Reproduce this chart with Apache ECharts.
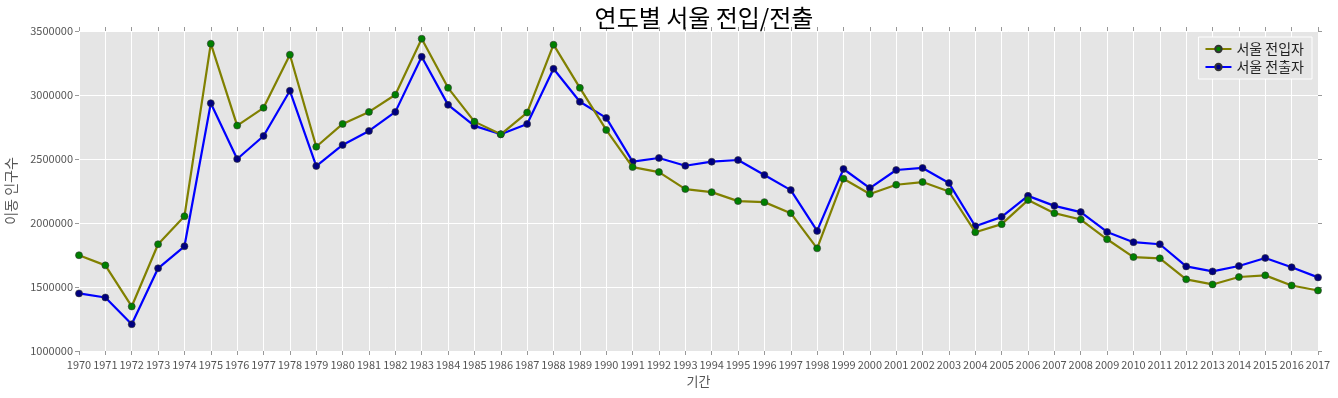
<!DOCTYPE html>
<html>
<head>
<meta charset="utf-8">
<script src="https://cdn.jsdelivr.net/npm/echarts@6/dist/echarts.min.js"></script>
<style>
  html, body { margin: 0; padding: 0; background: #fff; }
  #chart { width: 1338px; height: 398px; }
</style>
</head>
<body>
<div id="chart"></div>
<script>
// 연도별 서울 전입/전출
var years = ['1970','1971','1972','1973','1974','1975','1976','1977','1978','1979',
  '1980','1981','1982','1983','1984','1985','1986','1987','1988','1989',
  '1990','1991','1992','1993','1994','1995','1996','1997','1998','1999',
  '2000','2001','2002','2003','2004','2005','2006','2007','2008','2009',
  '2010','2011','2012','2013','2014','2015','2016','2017'];

var moveIn = [1748000, 1669000, 1348000, 1834000, 2053000, 3401000, 2761000, 2900000, 3315000, 2596000,
  2774000, 2868000, 3002000, 3440000, 3056000, 2792000, 2693000, 2863000, 3393000, 3056000,
  2727000, 2437000, 2398000, 2265000, 2241000, 2171000, 2163000, 2077000, 1802000, 2346000,
  2226000, 2299000, 2320000, 2246000, 1928000, 1991000, 2179000, 2077000, 2027000, 1873000,
  1734000, 1724000, 1560000, 1520000, 1578000, 1591000, 1512000, 1473000];

var moveOut = [1450000, 1418000, 1209000, 1646000, 1818000, 2936000, 2500000, 2680000, 3033000, 2445000,
  2610000, 2719000, 2868000, 3299000, 2923000, 2759000, 2693000, 2774000, 3205000, 2947000,
  2821000, 2479000, 2508000, 2447000, 2479000, 2492000, 2375000, 2257000, 1938000, 2422000,
  2273000, 2414000, 2430000, 2312000, 1975000, 2048000, 2212000, 2134000, 2085000, 1930000,
  1850000, 1834000, 1661000, 1622000, 1664000, 1727000, 1654000, 1575000];

var seriesNames = ['서울 전입자', '서울 전출자'];

var chart = echarts.init(document.getElementById('chart'));
var tickColor = '#555555';

var option = {
  animation: false,
  textStyle: { fontFamily: '"Noto Sans CJK KR", "Noto Sans", sans-serif' },
  title: {
    text: '연도별 서울 전입/전출',
    left: 699,
    textAlign: 'center',
    top: 1,
    textStyle: { fontSize: 24, fontWeight: 'normal', color: '#000' }
  },
  legend: {
    data: seriesNames,
    orient: 'vertical',
    right: 26,
    top: 37,
    padding: [5, 8, 5, 6],
    itemGap: 4,
    itemWidth: 26,
    itemHeight: 8,
    backgroundColor: '#E5E5E5',
    borderColor: '#FFFFFF',
    borderWidth: 1,
    textStyle: { fontSize: 14, color: '#222' }
  },
  grid: {
    left: 79,
    right: 20,
    top: 31,
    bottom: 47,
    outerBoundsMode: 'none',
    containLabel: false,
    show: true,
    backgroundColor: '#E5E5E5',
    borderWidth: 0
  },
  xAxis: [{
    type: 'category',
    data: years,
    boundaryGap: false,
    name: '기간',
    nameLocation: 'middle',
    nameGap: 23,
    nameTextStyle: { fontSize: 13, color: tickColor },
    axisLine: { show: false },
    axisTick: { show: true, interval: 0, length: 4, lineStyle: { color: '#999' } },
    axisLabel: { interval: 0, fontSize: 11, color: tickColor, margin: 8 },
    splitLine: { show: true, interval: 0, lineStyle: { color: '#FFFFFF', width: 1 } }
  }, {
    type: 'category',
    data: years,
    boundaryGap: false,
    position: 'top',
    axisLine: { show: false },
    axisTick: { show: true, interval: 0, length: 4, lineStyle: { color: '#999' } },
    axisLabel: { show: false },
    splitLine: { show: false }
  }],
  yAxis: [{
    type: 'value',
    min: 1000000,
    max: 3500000,
    interval: 500000,
    name: '이동 인구수',
    nameLocation: 'middle',
    nameGap: 61,
    nameTextStyle: { fontSize: 14, color: tickColor },
    axisLine: { show: false },
    axisTick: { show: true, length: 4, lineStyle: { color: '#999' } },
    axisLabel: { fontSize: 11, color: tickColor, margin: 6, formatter: function (v) { return String(v); } },
    splitLine: { lineStyle: { color: '#FFFFFF', width: 1 } }
  }, {
    type: 'value',
    min: 1000000,
    max: 3500000,
    interval: 500000,
    position: 'right',
    axisLine: { show: false },
    axisTick: { show: true, length: 4, lineStyle: { color: '#999' } },
    axisLabel: { show: false },
    splitLine: { show: false }
  }],
  series: [{
    name: seriesNames[0],
    type: 'line',
    data: moveIn,
    symbol: 'circle',
    symbolSize: 7,
    lineStyle: { color: '#808000', width: 2.2 },
    itemStyle: { color: '#008000', borderColor: '#333', borderWidth: 0.6 },
    z: 3
  }, {
    name: seriesNames[1],
    type: 'line',
    data: moveOut,
    symbol: 'circle',
    symbolSize: 7,
    lineStyle: { color: '#0000FF', width: 2.2 },
    itemStyle: { color: '#000080', borderColor: '#333', borderWidth: 0.6 },
    z: 2
  }]
};

chart.setOption(option);
</script>
</body>
</html>
